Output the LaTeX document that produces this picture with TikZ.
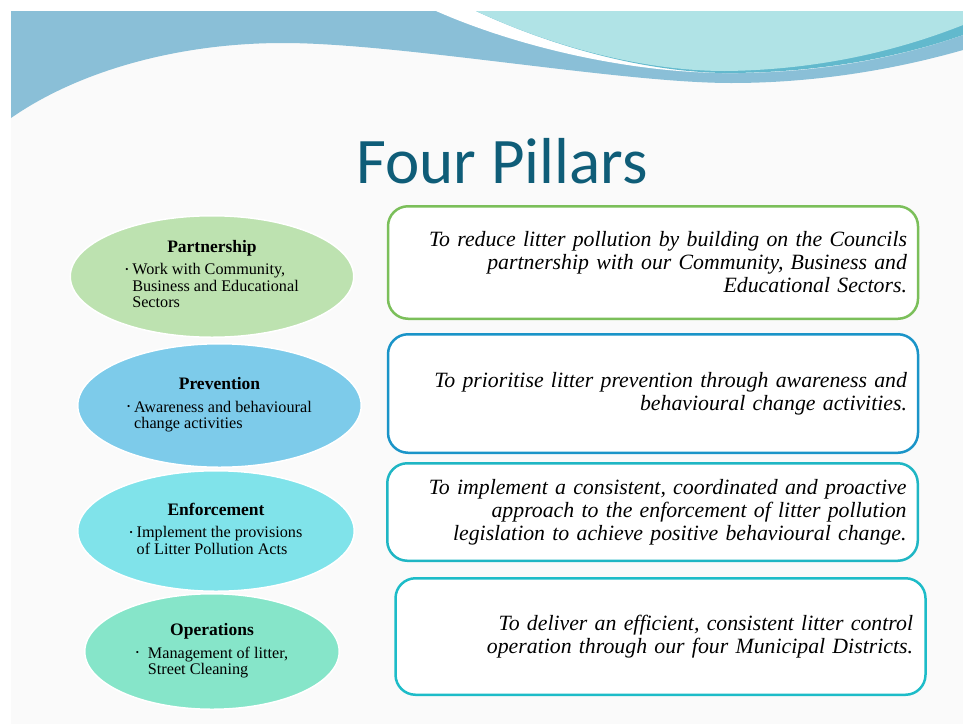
\documentclass[tikz,border=0pt]{standalone}
\usepackage{fontspec}
\setmainfont{Liberation Serif}
\newfontfamily\titlefont{Carlito}
\usetikzlibrary{shapes.geometric}
\definecolor{bandblue}{HTML}{8ABFD7}
\definecolor{bandcyan}{HTML}{B0E3E6}
\definecolor{bandteal}{HTML}{62B9CD}
\definecolor{slidebg}{HTML}{FAFAFA}
\definecolor{titleblue}{HTML}{0F5D78}
\definecolor{partfill}{HTML}{BDE2B0}
\definecolor{prevfill}{HTML}{7DCBEA}
\definecolor{enffill}{HTML}{80E3EA}
\definecolor{opfill}{HTML}{86E5C9}
\definecolor{partline}{HTML}{7BBF5A}
\definecolor{prevline}{HTML}{1A94C8}
\definecolor{enfline}{HTML}{1FB6C4}
\definecolor{opline}{HTML}{1DBCC8}
\newcommand{\phead}[1]{\multicolumn{1}{@{}c@{}}{\fontsize{17.5}{17.5}\selectfont\bfseries #1}\\[6pt]}
\newcommand{\pbul}[1][7pt]{\makebox[#1][l]{\raisebox{2.5pt}{\fontsize{9}{9}\selectfont\textbullet}}}

\begin{document}
\begin{tikzpicture}[x=1pt,y=-1pt,
    pillar/.style={ellipse, draw=white, line width=1.5pt, inner sep=0pt,
        font=\fontsize{16.2}{16.5}\selectfont},
    aim/.style={draw, rounded corners=20pt, line width=2.5pt, fill=white,
        inner xsep=0pt, text width=508pt, align=right,
        font=\fontsize{21.8}{23}\selectfont\itshape}]
    \useasboundingbox (0,0) rectangle (963,726);
    \fill[white] (0,0) rectangle (963,726);
    \fill[slidebg] (11,11) rectangle (963,724);
    \fill[bandblue] (11,11) -- (963,11) -- (963,50) .. controls (900,68) and (820,83) .. (731,83)
        .. controls (620,83) and (400,43) .. (283,43) .. controls (180,43) and (80,70) .. (11,118) -- cycle;
    \fill[white] (436,11) .. controls (520,48) and (630,72) .. (722,73)
        .. controls (820,74) and (900,57) .. (963,35) -- (963,11) -- cycle;
    \fill[bandteal] (476,11) .. controls (560,50) and (650,72) .. (725,73)
        .. controls (820,73) and (900,57) .. (963,35) -- (963,11) -- cycle;
    \fill[bandcyan] (476,11) .. controls (560,50) and (650,71) .. (725,71)
        .. controls (820,70) and (900,50) .. (963,25) -- (963,11) -- cycle;

    \node[anchor=base, text=titleblue, font=\titlefont\fontsize{65}{65}\selectfont] (title) at (502,183) {Four Pillars};

    \node[pillar, fill=partfill, minimum width=283.5pt, minimum height=121.5pt] (partnership) at (212,276.5)
        {\begin{tabular}{@{}l@{}}\phead{Partnership}\pbul Work with Community,\\ \hspace{7pt}Business and Educational\\ \hspace{7pt}Sectors\end{tabular}};
    \node[pillar, fill=prevfill, minimum width=283.5pt, minimum height=123.5pt] (prevention) at (219.5,405.5)
        {\begin{tabular}{@{}l@{}}\phead{Prevention}\pbul Awareness and behavioural\\ \hspace{7pt}change activities\end{tabular}};
    \node[pillar, fill=opfill, minimum width=254.5pt, minimum height=115.5pt] (operations) at (212,651.5)
        {\begin{tabular}{@{}l@{}}\phead{Operations}\pbul[12pt]Management of litter,\\ \hspace{12pt}Street Cleaning\end{tabular}};
    \node[pillar, fill=enffill, minimum width=276.5pt, minimum height=120.5pt] (enforcement) at (216,531)
        {\begin{tabular}{@{}l@{}}\phead{Enforcement}\pbul Implement the provisions\\ \hspace{7pt}of Litter Pollution Acts\end{tabular}};

    \node[aim, draw=partline, minimum width=530pt, minimum height=112.5pt] (partaim) at (653,262.5)
        {To reduce litter pollution by building on the Councils\\ partnership with our Community, Business and\\ Educational Sectors.};
    \node[aim, draw=prevline, minimum width=530pt, minimum height=118.5pt] (prevaim) at (653,393.5)
        {To prioritise litter prevention through awareness and\\ behavioural change activities.};
    \node[aim, draw=enfline, minimum width=530.5pt, minimum height=97.5pt] (enfaim) at (652.5,512)
        {To implement a consistent, coordinated and proactive\\ approach to the enforcement of litter pollution\\ legislation to achieve positive behavioural change.};
    \node[aim, draw=opline, text width=505pt, minimum width=530pt, minimum height=116.5pt] (opaim) at (660.5,636.5)
        {To deliver an efficient, consistent litter control\\ operation through our four Municipal Districts.};
\end{tikzpicture}
\end{document}
